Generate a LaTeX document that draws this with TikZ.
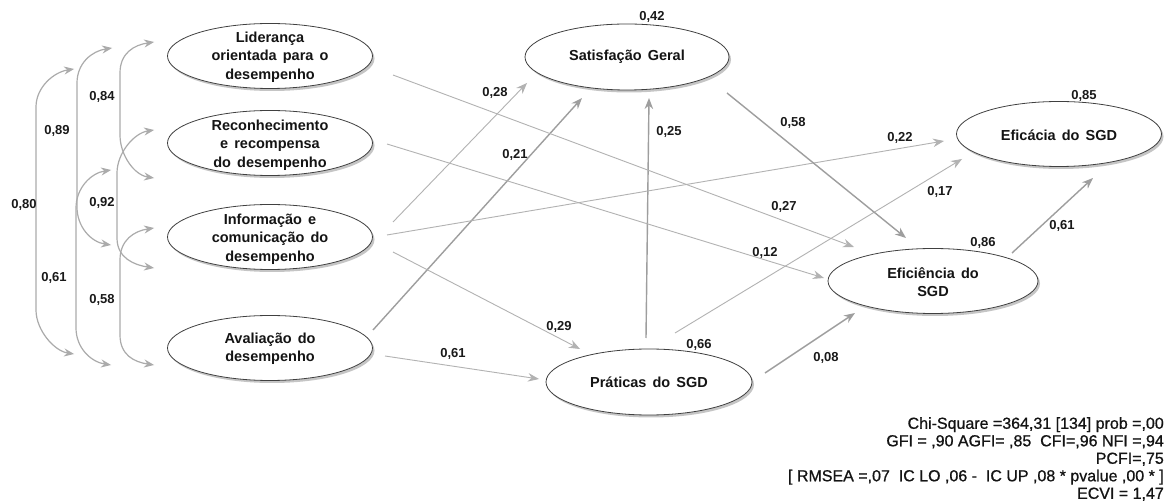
\documentclass[tikz,border=0pt]{standalone}
\usepackage{fontspec}
\setmainfont{Liberation Sans}
\newfontfamily\statfont[FakeBold=0.8]{Liberation Sans}
\usetikzlibrary{shapes.geometric,arrows.meta,shadows,calc}
\newcommand\covarc[5]{\draw[cov] #1 .. controls +(-20,3) and +(0,-20) .. (#2,#3) -- (#2,#4) .. controls +(0,20) and +(-20,-3) .. #5;}
\newcommand\widewords{\spaceskip=0.42em plus 0.1em\relax}
\begin{document}
\begin{tikzpicture}[x=1pt,y=-1pt,
  latent/.style={ellipse,draw=black!75,line width=0.8pt,fill=white,minimum width=205pt,minimum height=65pt,inner sep=0pt,
    drop shadow={shadow xshift=2pt,shadow yshift=-2.5pt,opacity=0.45}},
  ltxt/.style={font=\bfseries\fontsize{14.5}{18.5}\selectfont,align=center,inner sep=0pt,text=black!92},
  pth/.style={draw=black!30,line width=0.9pt,-{Stealth[length=11pt,width=8.5pt]}},
  pthk/.style={pth,draw=black!38,line width=1.4pt},
  cov/.style={draw=black!33,line width=1.2pt,{Stealth[length=10pt,width=8pt]}-{Stealth[length=10pt,width=8pt]}},
  lbl/.style={font=\bfseries\fontsize{13}{15}\selectfont,inner sep=0pt,text=black!90}]
\useasboundingbox (0,0) rectangle (1168,502);
\fill[white] (0,0) rectangle (1168,502);

% latent variables
\node[latent] (L) at (270,56) {};
\node[latent] (R) at (270,143) {};
\node[latent] (I) at (270,237) {};
\node[latent] (A) at (270,348) {};
\node[latent,minimum width=204pt,minimum height=66pt] (Sat) at (627,57) {};
\node[latent,minimum width=206pt,minimum height=66pt] (Prat) at (649,382) {};
\node[latent] (Efic) at (1059,134) {};
\node[latent,minimum width=210pt] (Efi) at (933,281) {};

\node[ltxt] (tL) at (270,57) {\widewords Liderança\\\widewords orientada para o\\\widewords desempenho};
\node[ltxt] (tR) at (270,145) {\widewords Reconhecimento\\\widewords e recompensa\\\widewords do desempenho};
\node[ltxt] (tI) at (270,239) {\widewords Informação e\\\widewords comunicação do\\\widewords desempenho};
\node[ltxt] (tA) at (270,349) {\widewords Avaliação do\\\widewords desempenho};
\node[ltxt] (tSat) at (627,57) {\widewords Satisfação Geral};
\node[ltxt] (tPrat) at (649,382) {\widewords Práticas do SGD};
\node[ltxt] (tEfic) at (1059,135) {\widewords Eficácia do SGD};
\node[ltxt] (tEfi) at (933,282) {\widewords Eficiência do\\\widewords SGD};

% covariances
\covarc{($(L.west)+(-93,13)$)}{36}{107}{310}{($(A.west)+(-93,6)$)}
\covarc{($(L.west)+(-55,-8)$)}{77}{83}{207}{($(I.west)+(-56,8)$)}
\covarc{($(R.west)+(-56,27)$)}{76}{208}{328}{($(A.west)+(-56,17)$)}
\covarc{($(L.west)+(-13,-14)$)}{120}{73}{135}{($(R.west)+(-13,35)$)}
\covarc{($(R.west)+(-13,-13)$)}{117}{173}{238}{($(I.west)+(-13,31)$)}
\covarc{($(I.west)+(-13,-9)$)}{120}{260}{335}{($(A.west)+(-13,17)$)}

\node[lbl] (c80) at (24,205) {0,80};
\node[lbl] (c89) at (57,131) {0,89};
\node[lbl] (c61) at (54,278) {0,61};
\node[lbl] (c84) at (102,97) {0,84};
\node[lbl] (c92) at (102,203) {0,92};
\node[lbl] (c58) at (102,300) {0,58};

% structural paths
\draw[pth]  ($(I)+(123,-15)$) -- ($(Sat)+(-100,26)$);
\draw[pthk] ($(A)+(103,-18)$) -- ($(Sat)+(-45,41)$);
\draw[pthk] ($(Prat)+(-3,-44)$) -- ($(Sat)+(22,41)$);
\draw[pth]  ($(L)+(123,19)$) -- ($(Efi)+(-79,-34)$);
\draw[pth]  ($(R)+(117,1)$) -- ($(Efi)+(-109,-3)$);
\draw[pth]  ($(I)+(117,-2)$) -- ($(Efic)+(-115,7)$);
\draw[pth]  ($(I)+(123,15)$) -- ($(Prat)+(-69,-33)$);
\draw[pth]  ($(A)+(115,8)$) -- ($(Prat)+(-110,-3)$);
\draw[pth]  ($(Prat)+(26,-49)$) -- ($(Efic)+(-97,25)$);
\draw[pthk] ($(Sat)+(100,36)$) -- ($(Efi)+(-27,-43)$);
\draw[pthk] ($(Efi)+(79,-28)$) -- ($(Efic)+(34,44)$);
\draw[pthk] ($(Prat)+(116,-9)$) -- ($(Efi)+(-78,32)$);

\node[lbl] (p28) at (495,93) {0,28};
\node[lbl] (p21) at (515,155) {0,21};
\node[lbl] (p25) at (669,132) {0,25};
\node[lbl] (p27) at (784,207) {0,27};
\node[lbl] (p12) at (765,253) {0,12};
\node[lbl] (p22) at (900,138) {0,22};
\node[lbl] (p29) at (559,327) {0,29};
\node[lbl] (p61a) at (453,354) {0,61};
\node[lbl] (p17) at (940,192) {0,17};
\node[lbl] (p58) at (793,123) {0,58};
\node[lbl] (p61b) at (1062,226) {0,61};
\node[lbl] (p08) at (826,358) {0,08};

% squared multiple correlations
\node[lbl] (r42) at (652,17) {0,42};
\node[lbl] (r66) at (699,345) {0,66};
\node[lbl] (r85) at (1084,96) {0,85};
\node[lbl] (r86) at (983,243) {0,86};

% fit statistics
\node[anchor=north east,align=right,inner sep=0pt,font=\statfont\fontsize{16}{17.5}\selectfont,text=black!92] (fit) at (1164,417)
 {Chi-Square =364,31 {[}134{]} prob =,00\\
  GFI = ,90 AGFI= ,85~ CFI=,96 NFI =,94\\
  PCFI=,75\\
  {[} RMSEA =,07~ IC LO ,06 -~ IC UP ,08 * pvalue ,00 * {]}\\
  ECVI = 1,47};
\end{tikzpicture}
\end{document}
